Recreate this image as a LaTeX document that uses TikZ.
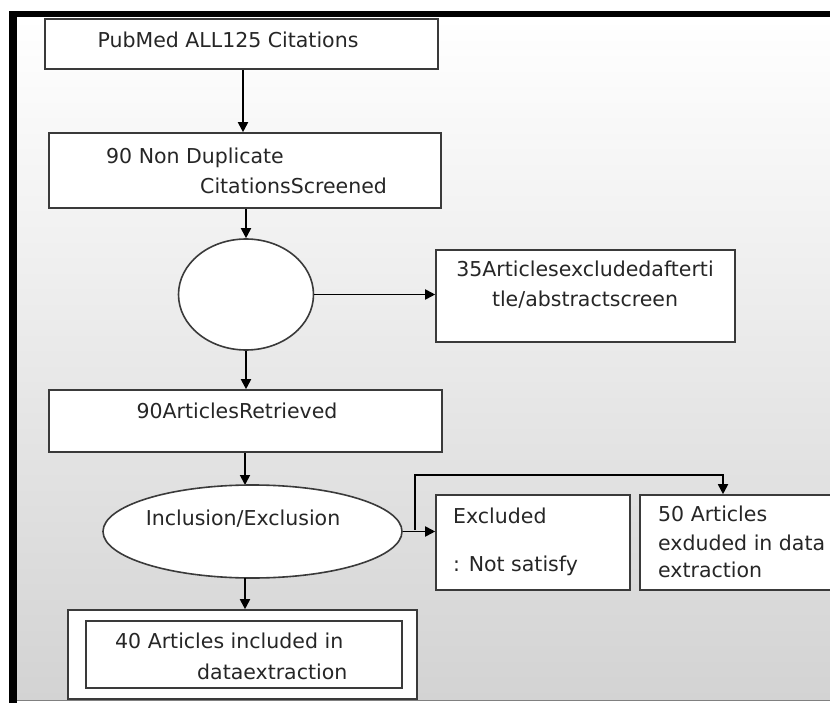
\documentclass[tikz,border=0pt]{standalone}
\usepackage{fontspec}
\setmainfont{DejaVu Sans}
\usetikzlibrary{shapes.geometric,arrows.meta}
\definecolor{ln}{HTML}{3A3A3A}
\definecolor{tx}{HTML}{262626}
\definecolor{bgbot}{HTML}{D3D3D3}
\begin{document}
\begin{tikzpicture}[x=1pt,y=-1pt,
  box/.style={draw=ln,line width=1.6pt,fill=white,rectangle,inner sep=0pt},
  oval/.style={draw=ln,line width=1.6pt,fill=white,ellipse,inner sep=0pt},
  lbl/.style={text=tx,font=\fontsize{20.5}{30}\selectfont,inner sep=0pt},
  arr/.style={draw=black,line width=1.8pt,-{Triangle[length=10pt,width=10pt]}},
  wire/.style={draw=black,line width=1.8pt}]
\useasboundingbox (0,0) rectangle (830,703);
\begin{scope}
\clip (0,0) rectangle (830,703);
\fill[white] (0,0) rectangle (830,703);
\shade[top color=white,bottom color=bgbot] (17,17) rectangle (830,700);
\fill[black] (9,11) rectangle (830,17);
\fill[black] (9,11) rectangle (17,703);
\draw[gray,line width=1pt] (17,700.5) -- (830,700.5);
% boxes
\node[box,minimum width=393,minimum height=50] (b1) at (241.5,44) {};
\node[box,minimum width=392,minimum height=75] (b2) at (245,170.5) {};
\node[oval,minimum width=135,minimum height=111] (c1) at (246,294.5) {};
\node[box,minimum width=299,minimum height=92] (b3) at (585.5,296) {};
\node[box,minimum width=393,minimum height=62] (b4) at (245.5,421) {};
\node[oval,minimum width=299,minimum height=93] (e1) at (252.5,531.5) {};
\node[box,minimum width=194,minimum height=95] (b5) at (533,542.5) {};
\node[box,minimum width=210,minimum height=95] (b6) at (745,542.5) {};
\node[box,minimum width=349,minimum height=89] (b7) at (242.5,654.5) {};
\node[box,minimum width=316,minimum height=67] (b8) at (244,654.5) {};
% texts
\node[lbl,anchor=base] (t1) at (228,48) {PubMed ALL125 Citations};
\node[lbl,anchor=base west] (t2a) at (106,164) {90 Non Duplicate};
\node[lbl,anchor=base west] (t2b) at (200,194) {CitationsScreened};
\node[lbl,anchor=base] (t3a) at (585,277) {35Articlesexcludedafterti};
\node[lbl,anchor=base] (t3b) at (585,307) {tle/abstractscreen};
\node[lbl,anchor=base] (t4) at (237,418) {90ArticlesRetrieved};
\node[lbl,anchor=base] (t5) at (243,525) {Inclusion/Exclusion};
\node[lbl,anchor=base west] (t6a) at (453,523) {Excluded};
\node[lbl,anchor=base west] (t6b) at (453,571) {: Not satisfy};
\node[lbl,anchor=base west] (t7a) at (658,521) {50 Articles};
\node[lbl,anchor=base west] (t7b) at (658,550) {exduded in data};
\node[lbl,anchor=base west] (t7c) at (658,577) {extraction};
\node[lbl,anchor=base west] (t8a) at (115,648) {40 Articles included in};
\node[lbl,anchor=base west] (t8b) at (197,679) {dataextraction};
% connectors
\coordinate (j) at (415,530);
\coordinate (k) at (723,475);
\draw[arr] (b1.south -| 243,0) -- (b2.north -| 243,0);
\draw[arr] (b2.south -| c1.north) -- (c1.north);
\draw[arr] (c1.east) -- (c1.east -| b3.west);
\draw[arr] (c1.south) -- (c1.south |- b4.north);
\draw[arr] (b4.south -| 245,0) -- (245,485);
\draw[arr] (e1.east) -- (e1.east -| b5.west);
\draw[arr] (j) |- (k) -- (k |- b6.north);
\draw[arr] (245,578) -- (b7.north -| 245,0);
\end{scope}
\end{tikzpicture}
\end{document}
